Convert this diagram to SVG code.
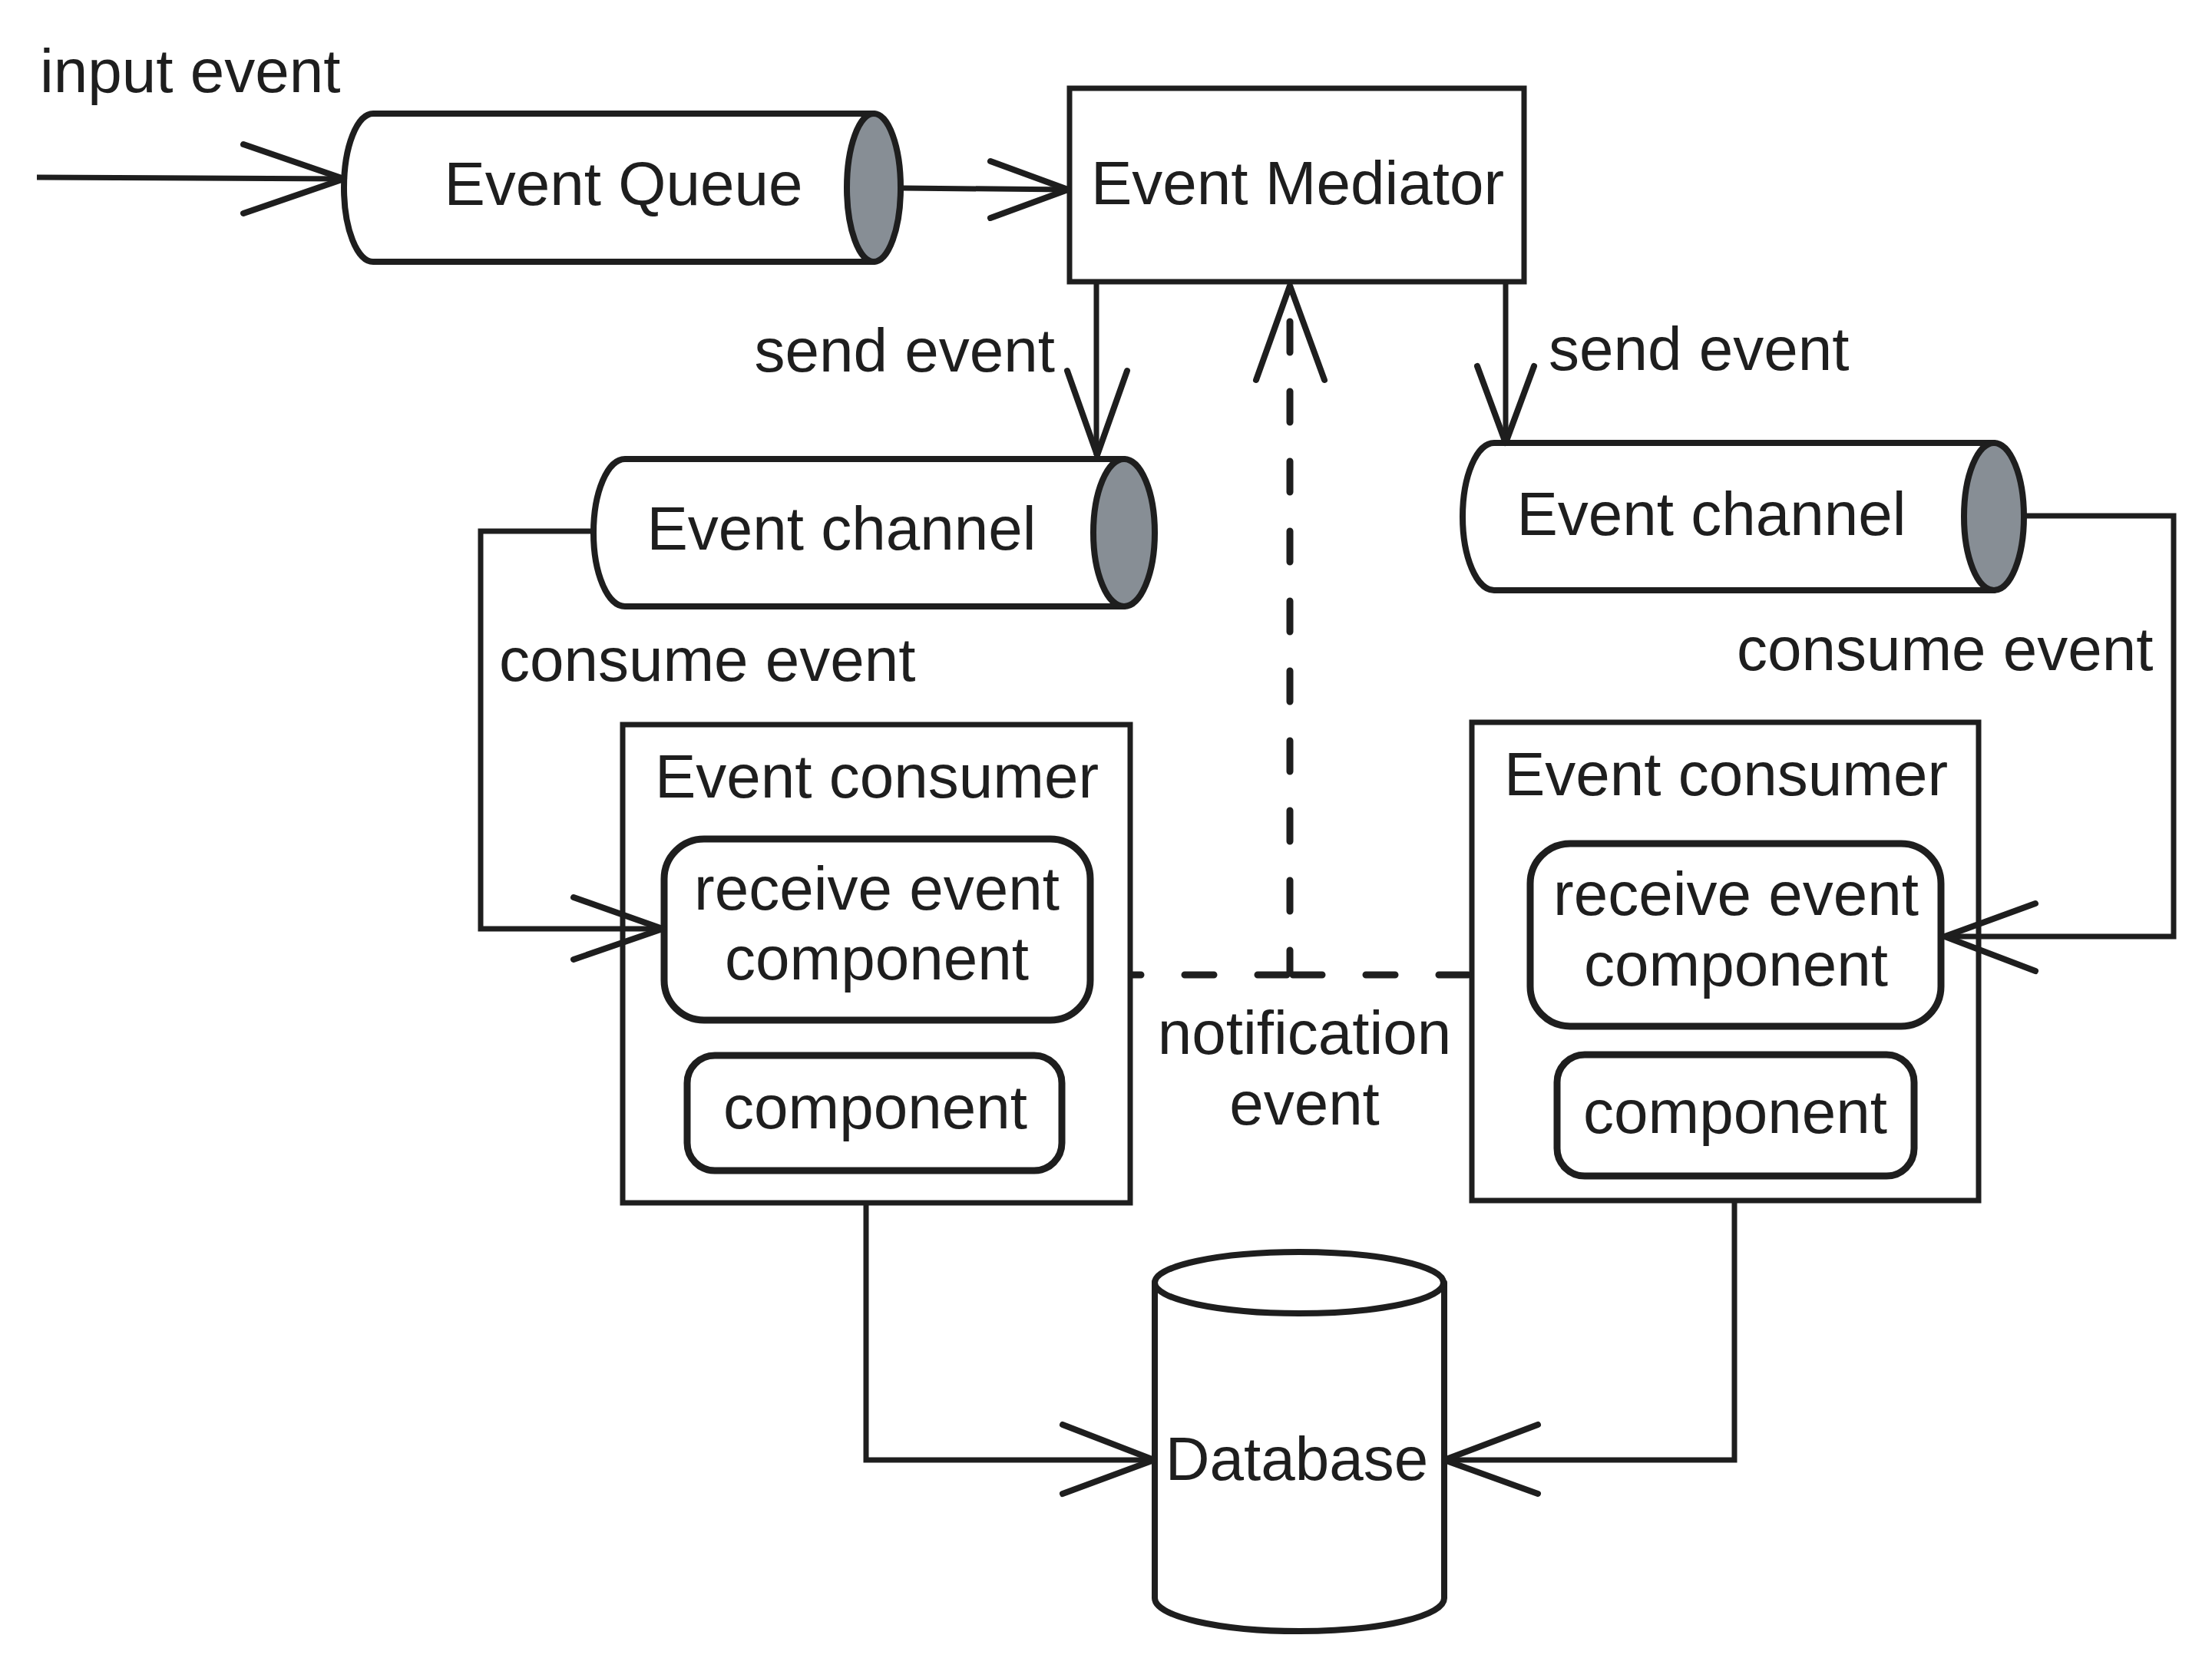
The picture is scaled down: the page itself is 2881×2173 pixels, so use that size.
<svg xmlns="http://www.w3.org/2000/svg" width="2881" height="2173" viewBox="0 0 2881 2173">
<style>
text{font-family:"Liberation Sans",Arial,sans-serif;font-size:80px;fill:#1e1e1e}
.m{text-anchor:middle}
.box{fill:#fff;stroke:#1e1e1e;stroke-width:7}
.comp{fill:#fff;stroke:#1e1e1e;stroke-width:9}
.cyl{fill:#fff;stroke:#1e1e1e;stroke-width:8;stroke-linecap:round}
.cap{fill:#878e95;stroke:#1e1e1e;stroke-width:8}
.ln{fill:none;stroke:#1e1e1e;stroke-width:7;stroke-linejoin:miter}
.head{fill:none;stroke:#1e1e1e;stroke-width:8;stroke-linecap:round;stroke-linejoin:round}
.dash{fill:none;stroke:#1e1e1e;stroke-width:9;stroke-linecap:round}
</style>
<rect width="2881" height="2173" fill="#fff"/>
<g id="event-queue">
<path class="cyl" d="M486,148 H1138 M486,341 H1138 M486,148 A38,96.5 0 0 0 486,341"/>
<ellipse class="cap" cx="1138" cy="244.5" rx="35" ry="96.5"/>
<text class="m" x="812" y="267">Event Queue</text>
</g>
<g id="event-mediator">
<rect class="box" x="1393" y="115" width="592" height="252"/>
<text class="m" x="1690" y="266">Event Mediator</text>
</g>
<g id="event-channel-left">
<path class="cyl" d="M814,598 H1464 M814,790 H1464 M814,598 A41,96 0 0 0 814,790"/>
<ellipse class="cap" cx="1464" cy="694" rx="40" ry="96"/>
<text class="m" x="1096" y="716">Event channel</text>
</g>
<g id="event-channel-right">
<path class="cyl" d="M1946,577 H2597 M1946,769 H2597 M1946,577 A41,96 0 0 0 1946,769"/>
<ellipse class="cap" cx="2597" cy="673" rx="39" ry="96"/>
<text class="m" x="2229" y="697">Event channel</text>
</g>
<g id="event-consumer-left">
<rect class="box" x="811" y="944" width="661" height="623"/>
<text class="m" x="1142" y="1039">Event consumer</text>
<rect class="comp" x="865" y="1093" width="555" height="236" rx="52"/>
<text class="m" x="1142" y="1185">receive event</text>
<text class="m" x="1142" y="1276">component</text>
<rect class="comp" x="895" y="1375" width="488" height="150" rx="36"/>
<text class="m" x="1140" y="1470">component</text>
</g>
<g id="event-consumer-right">
<rect class="box" x="1917" y="941" width="660" height="623"/>
<text class="m" x="2248" y="1036">Event consumer</text>
<rect class="comp" x="1993" y="1099" width="535" height="238" rx="52"/>
<text class="m" x="2261" y="1192">receive event</text>
<text class="m" x="2261" y="1284">component</text>
<rect class="comp" x="2028" y="1374" width="465" height="158" rx="36"/>
<text class="m" x="2260" y="1476">component</text>
</g>
<g id="database">
<path class="cyl" d="M1504,1671 V2082 A188,43 0 0 0 1881,2082 V1671"/>
<ellipse class="cyl" cx="1692" cy="1671" rx="188" ry="40" stroke-width="10"/>
<text class="m" x="1689" y="1928">Database</text>
</g>
<g id="connectors">
<path class="ln" d="M48,231 L448,233"/>
<path class="head" d="M317,188 L448,233 L317,278"/>
<path class="ln" d="M1176,245 L1391,247"/>
<path class="head" d="M1290,210 L1391,247 L1290,284"/>
<path class="ln" d="M1428,368 V593"/>
<path class="head" d="M1390,483 L1429,593 L1468,483"/>
<path class="ln" d="M1961,368 V577"/>
<path class="head" d="M1924,477 L1961,577 L1998,477"/>
<path class="ln" d="M772,692 H626 V1210 H863"/>
<path class="head" d="M747,1169 L863,1210 L747,1250"/>
<path class="ln" d="M2637,672 H2831 V1220 H2533"/>
<path class="head" d="M2651,1177 L2533,1220 L2651,1265"/>
<path class="ln" d="M1128,1567 V1902 H1503"/>
<path class="head" d="M1384,1856 L1503,1902 L1384,1946"/>
<path class="ln" d="M2259,1564 V1902 H1881"/>
<path class="head" d="M2003,1856 L1881,1902 L2003,1946"/>
<path class="dash" stroke-dasharray="38 57" d="M1684,1270 H1917"/>
<path class="dash" stroke-dasharray="38 57" d="M1676,1270 H1474"/>
<path class="dash" stroke-dasharray="40 51" d="M1680,419 V1266"/>
<path class="head" d="M1636,495 L1680,372 L1725,495"/>
<text x="52" y="120">input event</text>
<text x="1374" y="484" text-anchor="end">send event</text>
<text x="2017" y="482">send event</text>
<text x="650" y="887">consume event</text>
<text x="2262" y="873">consume event</text>
<text class="m" x="1699" y="1373">notification</text>
<text class="m" x="1699" y="1465">event</text>
</g>
</svg>
